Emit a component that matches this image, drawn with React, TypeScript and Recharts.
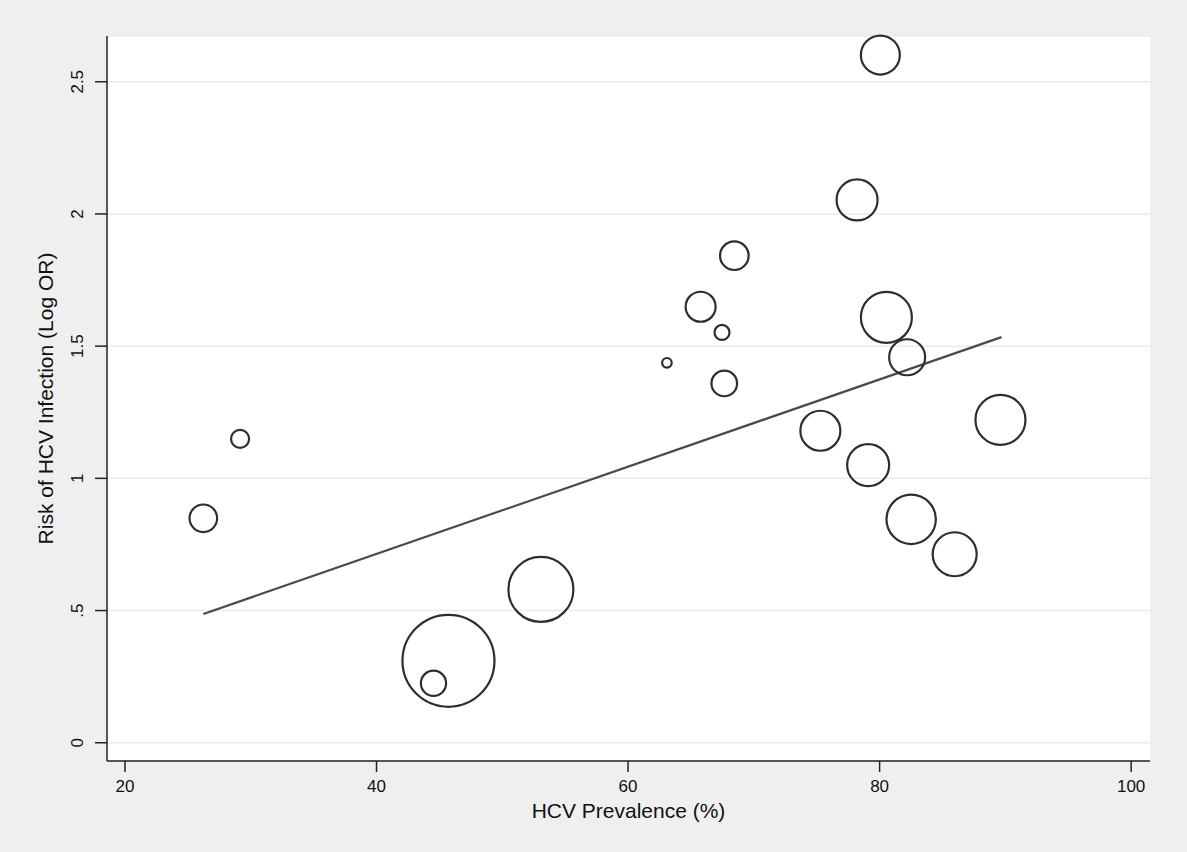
import { CartesianGrid, Label, Scatter, ScatterChart, XAxis, YAxis, ZAxis } from "recharts";

// HCV prevalence (%) per study
const prevalence = [
  80.06, 78.21, 68.45, 65.77, 67.47, 63.09, 67.65, 80.54, 82.19, 89.61,
  75.29, 79.09, 82.51, 85.97, 29.15, 26.23, 53.07, 45.72, 44.53,
];
// log odds ratio per study
const logOR = [
  2.601, 2.053, 1.842, 1.649, 1.552, 1.437, 1.359, 1.609, 1.458, 1.221,
  1.18, 1.05, 0.845, 0.713, 1.149, 0.849, 0.58, 0.31, 0.225,
];
// study weights (bubble area)
const weights = [
  380, 420, 204, 225, 56, 23, 164, 650, 324, 625,
  400, 441, 610, 484, 81, 190, 1056, 2116, 159,
];

// fitted meta-regression line endpoints
const fitX = [26.23, 89.69];
const fitY = [0.487, 1.534];

const xTicks = [20, 40, 60, 80, 100];
const yTicks = [0, 0.5, 1, 1.5, 2, 2.5];

const MAX_W = 2200;
const FONT = "'Liberation Sans', Arial, Helvetica, sans-serif";

const bubbles = prevalence.map((x, i) => ({ x, y: logOR[i], w: weights[i] }));
const fit = fitX.map((x, i) => ({ x, y: fitY[i] }));

const fmtY = (v: number) => (v === 0.5 ? ".5" : String(v));

function YTick(props: any) {
  const { x, y, payload } = props;
  return (
    <text
      x={x}
      y={y}
      transform={`rotate(-90, ${x}, ${y})`}
      textAnchor="middle"
      fontSize={17}
      fontFamily={FONT}
      fill="#111"
    >
      {fmtY(payload.value)}
    </text>
  );
}

function Bubble(props: any) {
  const { cx, cy, size, width } = props;
  const r = size != null ? Math.sqrt(size / Math.PI) : width / 2;
  return <circle cx={cx} cy={cy} r={r} fill="none" stroke="#2e2e2e" strokeWidth={2.2} />;
}

export default function App() {
  return (
    <div style={{ position: "absolute", left: 0, top: 0, width: 1187, height: 852, background: "#efefef" }}>
      <ScatterChart width={1187} height={852} margin={{ top: 36, right: 37, bottom: 41, left: 47 }}>
        <CartesianGrid vertical={false} fill="#fff" stroke="#ebebeb" strokeWidth={1.5} />
        <XAxis
          type="number"
          dataKey="x"
          domain={[18.57, 101.5]}
          ticks={xTicks}
          height={50}
          tickSize={11}
          tickMargin={8}
          stroke="#222"
          strokeWidth={1.5}
          tick={{ fontSize: 17, fontFamily: FONT, fill: "#111" }}
        >
          <Label
            content={({ viewBox }: any) => (
              <text
                x={viewBox.x + viewBox.width / 2}
                y={818}
                textAnchor="middle"
                fontSize={21}
                fontFamily={FONT}
                fill="#111"
              >
                HCV Prevalence (%)
              </text>
            )}
          />
        </XAxis>
        <YAxis
          type="number"
          dataKey="y"
          domain={[-0.069, 2.673]}
          ticks={yTicks}
          width={60}
          tickSize={12}
          tickMargin={12}
          stroke="#222"
          strokeWidth={1.5}
          tick={<YTick />}
        >
          <Label
            content={({ viewBox }: any) => {
              const cx = 53;
              const cy = viewBox.y + viewBox.height / 2;
              return (
                <text
                  x={cx}
                  y={cy}
                  transform={`rotate(-90, ${cx}, ${cy})`}
                  textAnchor="middle"
                  fontSize={21}
                  fontFamily={FONT}
                  fill="#111"
                >
                  Risk of HCV Infection (Log OR)
                </text>
              );
            }}
          />
        </YAxis>
        <ZAxis type="number" dataKey="w" domain={[0, MAX_W]} range={[0, MAX_W * Math.PI]} />
        <Scatter
          data={fit}
          line={{ stroke: "#4a4a4a", strokeWidth: 2.2 }}
          shape={() => <g />}
          isAnimationActive={false}
        />
        <Scatter data={bubbles} shape={<Bubble />} isAnimationActive={false} />
      </ScatterChart>
    </div>
  );
}
